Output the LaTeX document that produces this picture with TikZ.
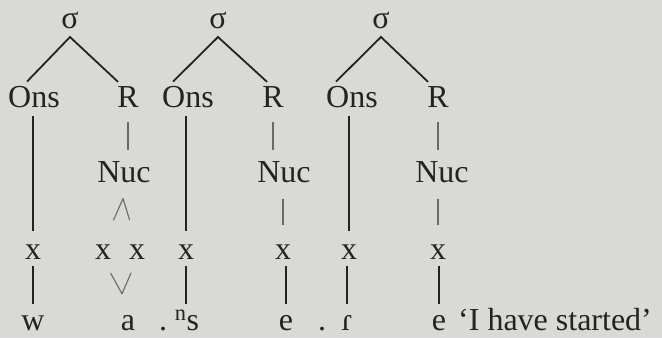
\documentclass[tikz,border=0pt]{standalone}
\usepackage{fontspec}
\setmainfont{Liberation Serif}
\definecolor{paper}{RGB}{217,217,213}
\definecolor{ink}{RGB}{35,35,35}
\definecolor{faint}{RGB}{105,105,105}
\begin{document}
\begin{tikzpicture}[x=1pt, y=-1pt,
    every node/.style={anchor=base, inner sep=0pt, text=ink, font=\fontsize{32}{32}\selectfont},
    branch/.style={draw=ink, line width=1.8pt},
    stem/.style={draw=ink, line width=2.3pt},
    twig/.style={draw=faint, line width=1.1pt}]
  \fill[paper] (0,0) rectangle (662,338);
  \useasboundingbox (0,0) rectangle (662,338);
  \node (sig1) at (70,28) {σ};
  \node (sig2) at (218,28) {σ};
  \node (sig3) at (381,28) {σ};
  \node (ons1) at (34,107) {Ons};
  \node (rime1) at (128,107) {R};
  \node (ons2) at (188,107) {Ons};
  \node (rime2) at (273,107) {R};
  \node (ons3) at (352,107) {Ons};
  \node (rime3) at (438,107) {R};
  \node (nuc1) at (124,182) {Nuc};
  \node (nuc2) at (284,182) {Nuc};
  \node (nuc3) at (442,182) {Nuc};
  \node (x1) at (33,259) {x};
  \node (x2) at (103,259) {x};
  \node (x3) at (137,259) {x};
  \node (x4) at (186,259) {x};
  \node (x5) at (283,259) {x};
  \node (x6) at (349,259) {x};
  \node (x7) at (438,259) {x};
  \node (segw) at (33,330) {w};
  \node (sega) at (128,330) {a};
  \node (dot1) at (163,330) {.};
  \node (segs) at (187,330) {\textsuperscript{n}s};
  \node (sege1) at (286,330) {e};
  \node (dot2) at (322,330) {.};
  \node (segr) at (347,330) {ɾ};
  \node (sege2) at (439,330) {e};
  \node[anchor=base west] (gloss) at (458,330) {‘I have started’};
  \draw[branch] ([xshift=-7pt,yshift=4pt]ons1.north) -- ([yshift=-9pt]sig1.base) -- ([xshift=-10pt,yshift=4pt]rime1.north);
  \draw[branch] ([xshift=-15pt,yshift=4pt]ons2.north) -- ([yshift=-9pt]sig2.base) -- ([xshift=-6pt,yshift=4pt]rime2.north);
  \draw[branch] ([xshift=-16pt,yshift=4pt]ons3.north) -- ([yshift=-9pt]sig3.base) -- ([xshift=-10pt,yshift=4pt]rime3.north);
  \draw[stem, shorten <=8pt, shorten >=13pt] (x1.north |- ons1.south) -- (x1.north);
  \draw[stem, shorten <=8pt, shorten >=13pt] (x4.north |- ons2.south) -- (x4.north);
  \draw[stem, shorten <=8pt, shorten >=13pt] (x6.north |- ons3.south) -- (x6.north);
  \draw[twig, shorten <=15pt, shorten >=11pt] (rime1.south) -- (rime1.south |- nuc1.north);
  \draw[twig, shorten <=15pt, shorten >=11pt] (rime2.south) -- (rime2.south |- nuc2.north);
  \draw[twig, shorten <=15pt, shorten >=11pt] (rime3.south) -- (rime3.south |- nuc3.north);
  \draw[twig, shorten >=26pt] ([xshift=-1pt,yshift=-16pt]nuc1.south) -- (x2.north);
  \draw[twig, shorten >=25pt] ([xshift=-1pt,yshift=-16pt]nuc1.south) -- (x3.north);
  \draw[twig, shorten <=16pt, shorten >=19pt] (x5.north |- nuc2.south) -- (x5.north);
  \draw[twig, shorten <=16pt, shorten >=19pt] (x7.north |- nuc3.south) -- (x7.north);
  \draw[twig, shorten <=16pt] (x2.south) -- ([xshift=-6pt,yshift=21pt]sega.north);
  \draw[twig, shorten <=15pt] (x3.south) -- ([xshift=-6pt,yshift=21pt]sega.north);
  \draw[stem, shorten <=7pt, shorten >=11pt] (x1.south) -- (x1.south |- segw.north);
  \draw[stem, shorten <=7pt, shorten >=11pt] (x4.south) -- (x4.south |- segw.north);
  \draw[stem, shorten <=7pt, shorten >=11pt] (sege1.north |- x5.south) -- (sege1.north);
  \draw[branch, shorten <=7pt, shorten >=11pt] (segr.north |- x6.south) -- (segr.north);
  \draw[stem, shorten <=7pt, shorten >=11pt] (sege2.north |- x7.south) -- (sege2.north);
\end{tikzpicture}
\end{document}
